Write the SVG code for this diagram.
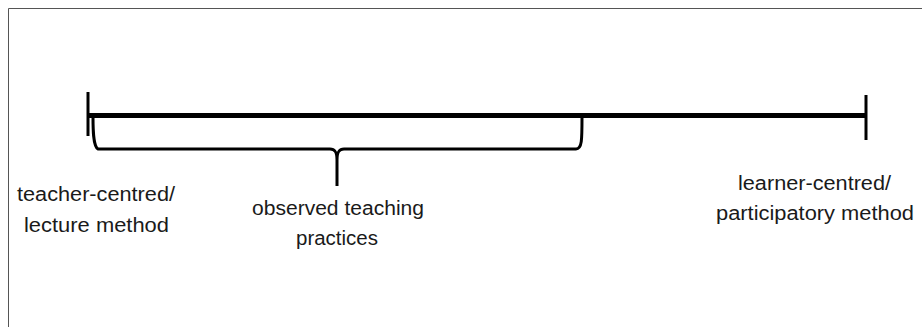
<svg xmlns="http://www.w3.org/2000/svg" width="922" height="327" viewBox="0 0 922 327">
<style>
.lbl{font-family:"Liberation Sans","Open Sans",sans-serif;font-size:20px;fill:#1a1a1a}
.ln{stroke:#000;fill:none;stroke-linecap:butt}
</style>
<rect x="0" y="0" width="922" height="327" fill="#fff"/>
<path d="M8.5 327 V8.5 H922" fill="none" stroke="#555" stroke-width="1"/>
<g id="connectors">
<line class="ln" x1="88" y1="115.5" x2="866" y2="115.5" stroke-width="5"/>
</g>
<g id="scale-left">
<line class="ln" x1="88" y1="92" x2="88" y2="136" stroke-width="3"/>
</g>
<g id="scale-right">
<line class="ln" x1="866" y1="95" x2="866" y2="140" stroke-width="3"/>
</g>
<g id="bracket">
<path class="ln" stroke-width="3" d="M93 117 C93 128 93 146 98 149 H330 C335 149 337 152 337 160 V186 M337 160 C337 152 339 149 344 149 H576 C582 149 582 140 582 117"/>
</g>
<g id="label-left">
<text class="lbl" x="17" y="201" textLength="158" lengthAdjust="spacingAndGlyphs">teacher-centred/</text>
<text class="lbl" x="24" y="232" textLength="145" lengthAdjust="spacingAndGlyphs">lecture method</text>
</g>
<g id="label-middle">
<text class="lbl" x="252" y="215" textLength="172" lengthAdjust="spacingAndGlyphs">observed teaching</text>
<text class="lbl" x="296" y="245" textLength="82" lengthAdjust="spacingAndGlyphs">practices</text>
</g>
<g id="label-right">
<text class="lbl" x="738" y="190" textLength="153" lengthAdjust="spacingAndGlyphs">learner-centred/</text>
<text class="lbl" x="716" y="220" textLength="198" lengthAdjust="spacingAndGlyphs">participatory method</text>
</g>
</svg>
